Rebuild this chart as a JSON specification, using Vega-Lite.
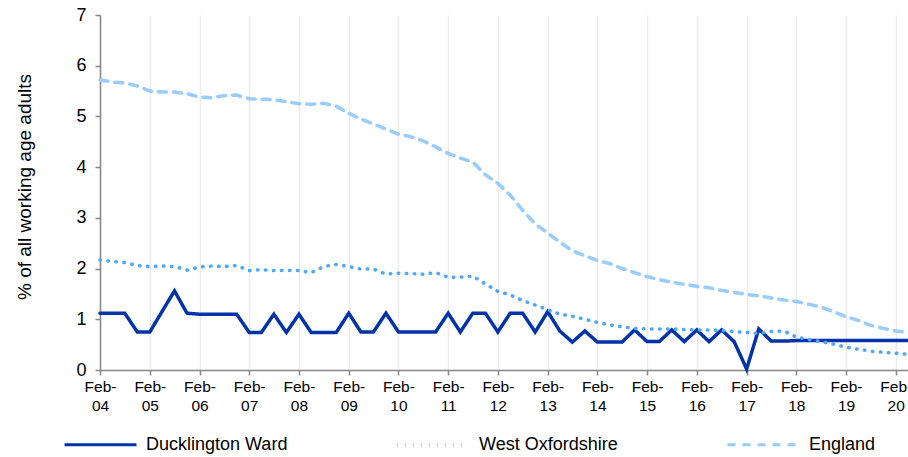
{
  "$schema": "https://vega.github.io/schema/vega-lite/v6.json",
  "width": 808,
  "height": 355,
  "autosize": {"type": "none"},
  "padding": {"left": 100, "top": 15, "right": 0, "bottom": 87},
  "config": {"view": {"stroke": null}, "font": "Liberation Sans"},
  "data": {"values": [
    {"date": "2004-02-01", "Ducklington Ward": 1.12, "West Oxfordshire": 2.17, "England": 5.72},
    {"date": "2004-05-01", "Ducklington Ward": 1.12, "West Oxfordshire": 2.14, "England": 5.68},
    {"date": "2004-08-01", "Ducklington Ward": 1.12, "West Oxfordshire": 2.12, "England": 5.66},
    {"date": "2004-11-01", "Ducklington Ward": 0.75, "West Oxfordshire": 2.06, "England": 5.60},
    {"date": "2005-02-01", "Ducklington Ward": 0.75, "West Oxfordshire": 2.04, "England": 5.50},
    {"date": "2005-05-01", "Ducklington Ward": 1.15, "West Oxfordshire": 2.05, "England": 5.48},
    {"date": "2005-08-01", "Ducklington Ward": 1.56, "West Oxfordshire": 2.04, "England": 5.48},
    {"date": "2005-11-01", "Ducklington Ward": 1.12, "West Oxfordshire": 1.97, "England": 5.45},
    {"date": "2006-02-01", "Ducklington Ward": 1.10, "West Oxfordshire": 2.03, "England": 5.38},
    {"date": "2006-05-01", "Ducklington Ward": 1.10, "West Oxfordshire": 2.05, "England": 5.37},
    {"date": "2006-08-01", "Ducklington Ward": 1.10, "West Oxfordshire": 2.04, "England": 5.41},
    {"date": "2006-11-01", "Ducklington Ward": 1.10, "West Oxfordshire": 2.06, "England": 5.42},
    {"date": "2007-02-01", "Ducklington Ward": 0.74, "West Oxfordshire": 1.96, "England": 5.35},
    {"date": "2007-05-01", "Ducklington Ward": 0.74, "West Oxfordshire": 1.98, "England": 5.34},
    {"date": "2007-08-01", "Ducklington Ward": 1.10, "West Oxfordshire": 1.96, "England": 5.33},
    {"date": "2007-11-01", "Ducklington Ward": 0.74, "West Oxfordshire": 1.96, "England": 5.29},
    {"date": "2008-02-01", "Ducklington Ward": 1.10, "West Oxfordshire": 1.96, "England": 5.25},
    {"date": "2008-05-01", "Ducklington Ward": 0.74, "West Oxfordshire": 1.92, "England": 5.24},
    {"date": "2008-08-01", "Ducklington Ward": 0.74, "West Oxfordshire": 2.04, "England": 5.26},
    {"date": "2008-11-01", "Ducklington Ward": 0.74, "West Oxfordshire": 2.08, "England": 5.20},
    {"date": "2009-02-01", "Ducklington Ward": 1.12, "West Oxfordshire": 2.04, "England": 5.06},
    {"date": "2009-05-01", "Ducklington Ward": 0.75, "West Oxfordshire": 1.99, "England": 4.95},
    {"date": "2009-08-01", "Ducklington Ward": 0.75, "West Oxfordshire": 1.99, "England": 4.85},
    {"date": "2009-11-01", "Ducklington Ward": 1.12, "West Oxfordshire": 1.89, "England": 4.75},
    {"date": "2010-02-01", "Ducklington Ward": 0.75, "West Oxfordshire": 1.91, "England": 4.65},
    {"date": "2010-05-01", "Ducklington Ward": 0.75, "West Oxfordshire": 1.90, "England": 4.60},
    {"date": "2010-08-01", "Ducklington Ward": 0.75, "West Oxfordshire": 1.89, "England": 4.52},
    {"date": "2010-11-01", "Ducklington Ward": 0.75, "West Oxfordshire": 1.92, "England": 4.40},
    {"date": "2011-02-01", "Ducklington Ward": 1.12, "West Oxfordshire": 1.83, "England": 4.27},
    {"date": "2011-05-01", "Ducklington Ward": 0.75, "West Oxfordshire": 1.83, "England": 4.18},
    {"date": "2011-08-01", "Ducklington Ward": 1.12, "West Oxfordshire": 1.85, "England": 4.10},
    {"date": "2011-11-01", "Ducklington Ward": 1.12, "West Oxfordshire": 1.70, "England": 3.85},
    {"date": "2012-02-01", "Ducklington Ward": 0.75, "West Oxfordshire": 1.55, "England": 3.68},
    {"date": "2012-05-01", "Ducklington Ward": 1.12, "West Oxfordshire": 1.48, "England": 3.45},
    {"date": "2012-08-01", "Ducklington Ward": 1.12, "West Oxfordshire": 1.37, "England": 3.15},
    {"date": "2012-11-01", "Ducklington Ward": 0.75, "West Oxfordshire": 1.28, "England": 2.88},
    {"date": "2013-02-01", "Ducklington Ward": 1.15, "West Oxfordshire": 1.19, "England": 2.70},
    {"date": "2013-05-01", "Ducklington Ward": 0.77, "West Oxfordshire": 1.10, "England": 2.52},
    {"date": "2013-08-01", "Ducklington Ward": 0.55, "West Oxfordshire": 1.06, "England": 2.35},
    {"date": "2013-11-01", "Ducklington Ward": 0.77, "West Oxfordshire": 1.00, "England": 2.25},
    {"date": "2014-02-01", "Ducklington Ward": 0.55, "West Oxfordshire": 0.94, "England": 2.16},
    {"date": "2014-05-01", "Ducklington Ward": 0.55, "West Oxfordshire": 0.89, "England": 2.10},
    {"date": "2014-08-01", "Ducklington Ward": 0.55, "West Oxfordshire": 0.85, "England": 2.00},
    {"date": "2014-11-01", "Ducklington Ward": 0.79, "West Oxfordshire": 0.82, "England": 1.92},
    {"date": "2015-02-01", "Ducklington Ward": 0.56, "West Oxfordshire": 0.81, "England": 1.84},
    {"date": "2015-05-01", "Ducklington Ward": 0.56, "West Oxfordshire": 0.81, "England": 1.78},
    {"date": "2015-08-01", "Ducklington Ward": 0.79, "West Oxfordshire": 0.81, "England": 1.73},
    {"date": "2015-11-01", "Ducklington Ward": 0.56, "West Oxfordshire": 0.80, "England": 1.69},
    {"date": "2016-02-01", "Ducklington Ward": 0.79, "West Oxfordshire": 0.79, "England": 1.65},
    {"date": "2016-05-01", "Ducklington Ward": 0.56, "West Oxfordshire": 0.79, "England": 1.62},
    {"date": "2016-08-01", "Ducklington Ward": 0.79, "West Oxfordshire": 0.78, "England": 1.57},
    {"date": "2016-11-01", "Ducklington Ward": 0.56, "West Oxfordshire": 0.76, "England": 1.53},
    {"date": "2017-02-01", "Ducklington Ward": 0.02, "West Oxfordshire": 0.74, "England": 1.49},
    {"date": "2017-05-01", "Ducklington Ward": 0.81, "West Oxfordshire": 0.72, "England": 1.46},
    {"date": "2017-08-01", "Ducklington Ward": 0.57, "West Oxfordshire": 0.76, "England": 1.42},
    {"date": "2017-11-01", "Ducklington Ward": 0.57, "West Oxfordshire": 0.77, "England": 1.38},
    {"date": "2018-02-01", "Ducklington Ward": 0.58, "West Oxfordshire": 0.65, "England": 1.35},
    {"date": "2018-05-01", "Ducklington Ward": 0.58, "West Oxfordshire": 0.60, "England": 1.30},
    {"date": "2018-08-01", "Ducklington Ward": 0.58, "West Oxfordshire": 0.56, "England": 1.24},
    {"date": "2018-11-01", "Ducklington Ward": 0.58, "West Oxfordshire": 0.51, "England": 1.15},
    {"date": "2019-02-01", "Ducklington Ward": 0.58, "West Oxfordshire": 0.45, "England": 1.05},
    {"date": "2019-05-01", "Ducklington Ward": 0.58, "West Oxfordshire": 0.41, "England": 0.98},
    {"date": "2019-08-01", "Ducklington Ward": 0.58, "West Oxfordshire": 0.37, "England": 0.88},
    {"date": "2019-11-01", "Ducklington Ward": 0.58, "West Oxfordshire": 0.35, "England": 0.82},
    {"date": "2020-02-01", "Ducklington Ward": 0.58, "West Oxfordshire": 0.33, "England": 0.77},
    {"date": "2020-05-01", "Ducklington Ward": 0.58, "West Oxfordshire": 0.31, "England": 0.74}
  ]},
  "transform": [
    {"fold": ["Ducklington Ward", "West Oxfordshire", "England"], "as": ["series", "value"]}
  ],
  "mark": {"type": "line", "strokeWidth": 3.5, "strokeCap": "round", "clip": false},
  "encoding": {
    "x": {
      "field": "date",
      "type": "temporal",
      "scale": {
        "type": "utc",
        "domain": [
          {"year": 2004, "month": 2, "date": 1, "utc": true},
          {"year": 2020, "month": 5, "date": 1, "utc": true}
        ]
      },
      "axis": {
        "title": null,
        "values": [
          {"year": 2004, "month": 2, "date": 1, "utc": true},
          {"year": 2005, "month": 2, "date": 1, "utc": true},
          {"year": 2006, "month": 2, "date": 1, "utc": true},
          {"year": 2007, "month": 2, "date": 1, "utc": true},
          {"year": 2008, "month": 2, "date": 1, "utc": true},
          {"year": 2009, "month": 2, "date": 1, "utc": true},
          {"year": 2010, "month": 2, "date": 1, "utc": true},
          {"year": 2011, "month": 2, "date": 1, "utc": true},
          {"year": 2012, "month": 2, "date": 1, "utc": true},
          {"year": 2013, "month": 2, "date": 1, "utc": true},
          {"year": 2014, "month": 2, "date": 1, "utc": true},
          {"year": 2015, "month": 2, "date": 1, "utc": true},
          {"year": 2016, "month": 2, "date": 1, "utc": true},
          {"year": 2017, "month": 2, "date": 1, "utc": true},
          {"year": 2018, "month": 2, "date": 1, "utc": true},
          {"year": 2019, "month": 2, "date": 1, "utc": true},
          {"year": 2020, "month": 2, "date": 1, "utc": true}
        ],
        "labelExpr": "['Feb-', utcFormat(datum.value, '%y')]",
        "labelFontSize": 15.5,
        "labelColor": "#000000",
        "labelPadding": 4,
        "labelLineHeight": 19,
        "labelFlush": false,
        "labelOverlap": false,
        "grid": true,
        "gridColor": "#EBEBEB",
        "gridWidth": 1.5,
        "domainColor": "#888888",
        "domainWidth": 1.5,
        "tickColor": "#888888",
        "tickWidth": 1.5,
        "tickSize": 5
      }
    },
    "y": {
      "field": "value",
      "type": "quantitative",
      "scale": {"domain": [0, 7], "nice": false},
      "axis": {
        "title": "% of all working age adults",
        "titleFontSize": 19,
        "titleFontWeight": "normal",
        "titleColor": "#000000",
        "titleX": -76,
        "titleY": 171.5,
        "titleAlign": "center",
        "titleBaseline": "middle",
        "values": [0, 1, 2, 3, 4, 5, 6, 7],
        "labelFontSize": 18,
        "labelColor": "#000000",
        "labelPadding": 9,
        "grid": false,
        "domainColor": "#888888",
        "domainWidth": 1.5,
        "tickColor": "#888888",
        "tickWidth": 1.5,
        "tickSize": 5
      }
    },
    "color": {
      "field": "series",
      "type": "nominal",
      "scale": {
        "domain": ["Ducklington Ward", "West Oxfordshire", "England"],
        "range": ["#0033AA", "#4DA6FF", "#99CCFF"]
      },
      "legend": {
        "title": null,
        "orient": "none",
        "direction": "horizontal",
        "legendX": -37,
        "legendY": 392,
        "symbolType": "stroke",
        "symbolSize": 5184,
        "symbolStrokeWidth": 3,
        "labelFontSize": 18,
        "labelColor": "#000000",
        "labelOffset": 8,
        "labelLimit": 300,
        "columnPadding": 103
      }
    },
    "strokeDash": {
      "field": "series",
      "type": "nominal",
      "scale": {
        "domain": ["Ducklington Ward", "West Oxfordshire", "England"],
        "range": [[1, 0], [0.5, 7.5], [8, 7]]
      }
    }
  }
}
